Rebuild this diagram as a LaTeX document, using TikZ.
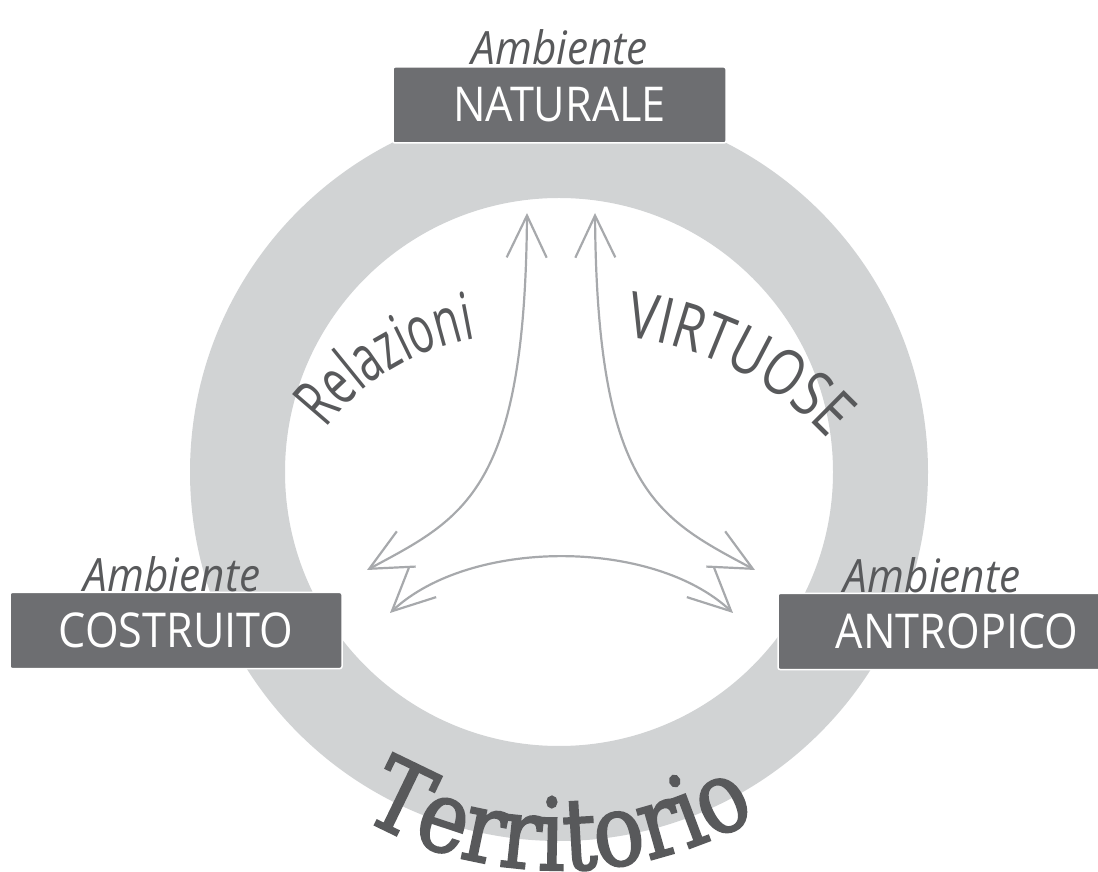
\documentclass[tikz,border=0pt]{standalone}
\usepackage{fontspec}
\setmainfont{Open Sans}
\newfontfamily\boxfont{Open Sans}[FakeStretch=0.9]
\newfontfamily\ambfont{Open Sans}[FakeStretch=0.92]
\newfontfamily\relfont{Open Sans}[FakeStretch=0.65]
\newfontfamily\virfont{Open Sans}[FakeStretch=0.78]
\newfontfamily\terrfont{DejaVu Serif}[FakeStretch=0.84, FakeBold=2]
\usetikzlibrary{arrows.meta,positioning,decorations.text}
\definecolor{ringgray}{HTML}{D1D3D4}
\definecolor{boxgray}{HTML}{6D6E71}
\definecolor{inkgray}{HTML}{58595B}
\definecolor{arrowgray}{HTML}{A7A9AC}

\begin{document}
\begin{tikzpicture}[
x=1pt, y=1pt,
box/.style = {fill=boxgray, draw=white, line width=1.5pt, rounded corners=2pt,
              minimum height=76pt, inner sep=0pt, text=white,
              font=\boxfont\fontsize{48}{48}\selectfont},
amb/.style = {inner sep=0pt, text=inkgray,
              font=\ambfont\itshape\fontsize{46}{46}\selectfont},
rel/.style = {draw=arrowgray, line width=2.2pt, line cap=round,
              >={Straight Barb[length=42pt,width=40pt]}, <->}
                ]
\useasboundingbox (0,0) rectangle (1098,871);
\clip (0,0) rectangle (1098,871);

%% ring
\coordinate (c) at (559,399);
\fill[ringgray, even odd rule] (c) circle[radius=369] (c) circle[radius=274];

%% boxes
\node (nat) [box, minimum width=333pt] at (559.5,766) {NATURALE};
\node (cos) [box, minimum width=332pt] at (176,240.5) {COSTRUITO};
\node (ant) [box, minimum width=358pt] at (957,239.5) {ANTROPICO};
\node (a1) [amb, above=1pt of nat] {Ambiente};
\node (a2) [amb, above=0pt of cos, xshift=-4pt] {Ambiente};
\node (a3) [amb, above=0pt of ant, xshift=-25pt] {Ambiente};

%% arrows
\coordinate (l1) at (367,301);
\coordinate (l2) at (527,658);
\coordinate (r1) at (595,658);
\coordinate (r2) at (755,301);
\coordinate (b1) at (390,258);
\coordinate (b2) at (733,258);
\draw[rel] (l1) .. controls (464,353) and (525,380) .. (l2);
\draw[rel] (r1) .. controls (597,380) and (658,353) .. (r2);
\draw[rel] (b1) .. controls (470,333) and (653,333) .. (b2);

%% curved words
\coordinate (rc) at (516,296);
\coordinate (vc) at (586,207);
\path[decorate, decoration={text along path, text align=center, text color=inkgray,
      text={|\relfont\fontsize{66}{66}\selectfont|Relazioni}}]
  ([shift={(174:240)}]rc) arc[start angle=174, end angle=68, radius=240];
\path[decorate, decoration={text along path, text align=center, text color=inkgray,
      text={|\virfont\fontsize{64}{64}\selectfont|VIRTUOSE}}]
  ([shift={(110:330)}]vc) arc[start angle=110, end angle=16, radius=330];
\path[decorate, decoration={text along path, text align=center, text color=inkgray,
      text={|\terrfont\fontsize{100}{100}\selectfont|Territorio}}]
  ([shift={(200:398)}]c) arc[start angle=200, end angle=340, radius=398];
\end{tikzpicture}
\end{document}
